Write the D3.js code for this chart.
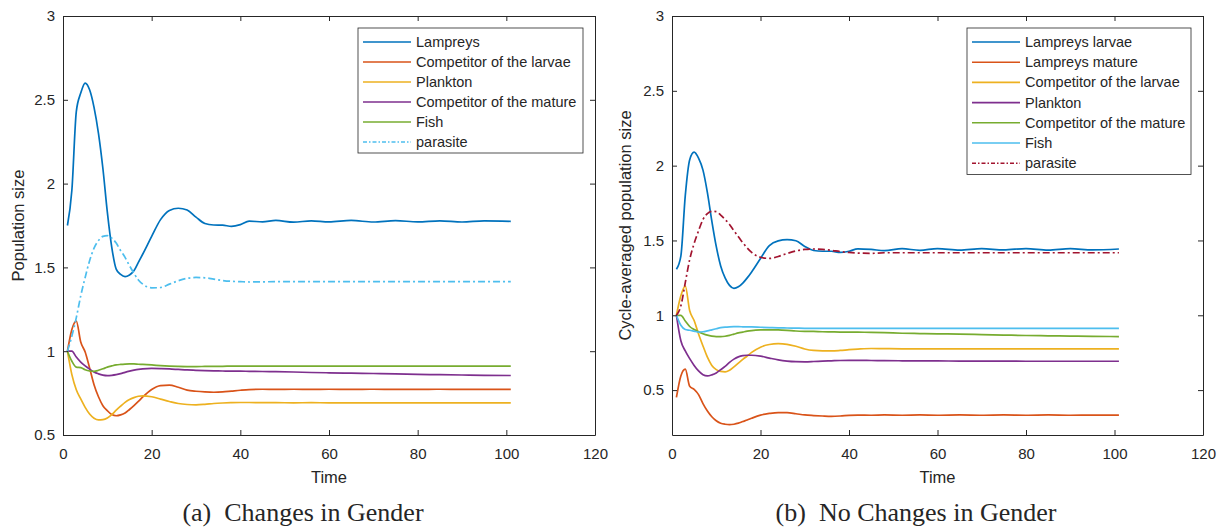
<!DOCTYPE html>
<html>
<head>
<meta charset="utf-8">
<script src="https://cdn.jsdelivr.net/npm/d3@7"></script>
<style>
  body { margin: 0; background: #fff; }
  svg { display: block; }
  text { fill: #262626; }
</style>
</head>
<body>
<div id="chart"></div>
<script>
// ---------- DATA ----------
const time = [1,2,3,4,5,6,7,8,9,10,11,12,13,14,15,16,17,18,20,22,24,26,28,30,32,34,36,38,40,42,45,48,52,56,60,65,70,75,80,85,90,95,101];

// Panel (a): Changes in Gender
const aLampreys   = [1.75,1.96,2.43,2.54,2.60,2.56,2.455,2.30,2.09,1.83,1.62,1.49,1.458,1.445,1.455,1.48,1.53,1.58,1.685,1.785,1.84,1.853,1.842,1.80,1.762,1.753,1.752,1.745,1.755,1.776,1.772,1.780,1.770,1.778,1.772,1.780,1.771,1.779,1.772,1.778,1.771,1.778,1.775];
const aCompLarvae = [1.0,1.13,1.18,1.055,0.995,0.90,0.80,0.728,0.675,0.645,0.622,0.615,0.62,0.631,0.652,0.675,0.70,0.727,0.772,0.795,0.798,0.785,0.768,0.761,0.757,0.755,0.757,0.762,0.767,0.771,0.773,0.772,0.773,0.772,0.773,0.772,0.773,0.772,0.772,0.773,0.772,0.772,0.772];
const aPlankton   = [1.0,0.86,0.77,0.715,0.665,0.625,0.60,0.59,0.592,0.602,0.622,0.648,0.672,0.695,0.712,0.723,0.731,0.734,0.728,0.714,0.70,0.688,0.682,0.68,0.683,0.688,0.691,0.693,0.694,0.694,0.693,0.693,0.692,0.693,0.692,0.692,0.692,0.692,0.692,0.692,0.692,0.692,0.692];
const aCompMature = [1.0,1.0,0.965,0.935,0.912,0.893,0.876,0.865,0.857,0.854,0.856,0.86,0.866,0.874,0.881,0.887,0.892,0.895,0.897,0.896,0.894,0.891,0.888,0.886,0.884,0.883,0.882,0.881,0.881,0.88,0.879,0.878,0.876,0.873,0.871,0.869,0.867,0.865,0.862,0.86,0.858,0.856,0.855];
const aFish       = [1.0,0.94,0.905,0.902,0.889,0.882,0.88,0.886,0.895,0.905,0.912,0.918,0.921,0.923,0.924,0.924,0.922,0.921,0.918,0.914,0.911,0.909,0.908,0.908,0.909,0.91,0.91,0.911,0.911,0.911,0.911,0.911,0.911,0.911,0.911,0.911,0.911,0.911,0.911,0.911,0.911,0.911,0.911];
const aParasite   = [1.0,1.09,1.2,1.33,1.44,1.54,1.615,1.66,1.685,1.69,1.675,1.645,1.60,1.56,1.51,1.465,1.425,1.40,1.378,1.38,1.40,1.42,1.435,1.44,1.438,1.43,1.422,1.417,1.415,1.413,1.414,1.415,1.415,1.415,1.415,1.415,1.415,1.415,1.415,1.415,1.415,1.415,1.415];

// Panel (b): No Changes in Gender
const bLampreysLarvae = [1.307,1.395,1.80,2.04,2.09,2.05,1.97,1.82,1.63,1.46,1.33,1.25,1.20,1.18,1.19,1.215,1.25,1.29,1.38,1.465,1.497,1.505,1.498,1.46,1.433,1.428,1.428,1.42,1.428,1.444,1.44,1.432,1.445,1.434,1.446,1.436,1.445,1.437,1.446,1.436,1.445,1.437,1.443];
const bLampreysMature = [0.451,0.595,0.64,0.525,0.505,0.47,0.41,0.36,0.322,0.295,0.279,0.272,0.269,0.272,0.279,0.29,0.30,0.312,0.333,0.344,0.35,0.349,0.342,0.334,0.33,0.327,0.325,0.327,0.331,0.333,0.332,0.334,0.332,0.334,0.332,0.334,0.332,0.334,0.332,0.334,0.332,0.333,0.333];
const bCompLarvae     = [1.0,1.13,1.195,1.03,0.965,0.875,0.795,0.72,0.665,0.637,0.625,0.622,0.633,0.655,0.68,0.705,0.728,0.752,0.787,0.805,0.81,0.806,0.793,0.775,0.765,0.762,0.762,0.765,0.77,0.774,0.778,0.777,0.776,0.776,0.775,0.776,0.775,0.775,0.775,0.775,0.775,0.775,0.775];
const bPlankton       = [1.0,0.83,0.762,0.71,0.665,0.628,0.603,0.595,0.602,0.615,0.637,0.658,0.685,0.707,0.722,0.73,0.733,0.733,0.727,0.714,0.702,0.694,0.69,0.689,0.691,0.694,0.696,0.698,0.699,0.699,0.698,0.697,0.696,0.695,0.695,0.694,0.694,0.694,0.693,0.693,0.693,0.693,0.693];
const bCompMature     = [1.0,1.0,0.962,0.925,0.905,0.89,0.877,0.867,0.861,0.858,0.858,0.86,0.866,0.874,0.882,0.888,0.894,0.898,0.902,0.903,0.902,0.899,0.895,0.893,0.892,0.89,0.889,0.888,0.888,0.887,0.886,0.884,0.88,0.878,0.876,0.874,0.871,0.868,0.865,0.863,0.861,0.859,0.858];
const bFish           = [1.0,0.933,0.905,0.9,0.894,0.888,0.89,0.896,0.903,0.91,0.917,0.921,0.923,0.924,0.924,0.923,0.922,0.922,0.92,0.918,0.916,0.915,0.914,0.913,0.913,0.913,0.913,0.913,0.913,0.913,0.913,0.913,0.913,0.913,0.913,0.913,0.913,0.913,0.913,0.913,0.913,0.913,0.913];
const bParasite       = [1.0,1.062,1.218,1.373,1.48,1.565,1.64,1.68,1.695,1.693,1.67,1.64,1.607,1.565,1.525,1.485,1.45,1.42,1.388,1.38,1.393,1.413,1.43,1.44,1.443,1.44,1.434,1.426,1.42,1.416,1.414,1.418,1.418,1.418,1.418,1.418,1.418,1.418,1.418,1.418,1.418,1.418,1.418];

const xTicks = [0,20,40,60,80,100,120];
const yTicks = [0.5,1,1.5,2,2.5,3];
const aNames = ["Lampreys","Competitor of the larvae","Plankton","Competitor of the mature","Fish","parasite"];
const bNames = ["Lampreys larvae","Lampreys mature","Competitor of the larvae","Plankton","Competitor of the mature","Fish","parasite"];
const captions = ["(a)  Changes in Gender", "(b)  No Changes in Gender"];
const yLabels = ["Population size", "Cycle-averaged population size"];
const xLabel = "Time";

// ---------- STYLE ----------
const C = { blue:"#0072BD", orange:"#D95319", yellow:"#EDB120", purple:"#7E2F8E", green:"#77AC30", cyan:"#4DBEEE", red:"#A2142F" };
const axisColor = "#262626";
const dashDot = "7,3,2,3";

const panels = [
  {
    plot: {left:63, right:595, top:16, bottom:435},
    yDomain: [0.5, 3],
    series: [
      {name:aNames[0], values:aLampreys,   color:C.blue},
      {name:aNames[1], values:aCompLarvae, color:C.orange},
      {name:aNames[2], values:aPlankton,   color:C.yellow},
      {name:aNames[3], values:aCompMature, color:C.purple},
      {name:aNames[4], values:aFish,       color:C.green},
      {name:aNames[5], values:aParasite,   color:C.cyan, dash:dashDot}
    ],
    legend: {x:358, y:28, w:225, rowH:20},
    yLabel: yLabels[0], yLabelX: 24,
    caption: captions[0], captionX: 303
  },
  {
    plot: {left:672, right:1203, top:16, bottom:435},
    yDomain: [0.2, 3],
    series: [
      {name:bNames[0], values:bLampreysLarvae, color:C.blue},
      {name:bNames[1], values:bLampreysMature, color:C.orange},
      {name:bNames[2], values:bCompLarvae,     color:C.yellow},
      {name:bNames[3], values:bPlankton,       color:C.purple},
      {name:bNames[4], values:bCompMature,     color:C.green},
      {name:bNames[5], values:bFish,           color:C.cyan},
      {name:bNames[6], values:bParasite,       color:C.red, dash:dashDot}
    ],
    legend: {x:967, y:28, w:224, rowH:20.2},
    yLabel: yLabels[1], yLabelX: 631,
    caption: captions[1], captionX: 916
  }
];

const svg = d3.select("#chart").append("svg")
  .attr("width", 1227).attr("height", 530)
  .style("font-family", "'Liberation Sans', Arial, Helvetica, sans-serif");
svg.append("rect").attr("width",1227).attr("height",530).attr("fill","#fff");

panels.forEach(p => {
  const {left,right,top,bottom} = p.plot;
  const x = d3.scaleLinear().domain([0,120]).range([left,right]);
  const y = d3.scaleLinear().domain(p.yDomain).range([bottom,top]);
  const g = svg.append("g");

  // lines
  const line = d3.line()
    .x((d,i) => x(time[i]))
    .y(d => y(d))
    .curve(d3.curveMonotoneX);
  p.series.forEach(s => {
    g.append("path")
      .attr("d", line(s.values))
      .attr("fill","none")
      .attr("stroke", s.color)
      .attr("stroke-width", 1.7)
      .attr("stroke-dasharray", s.dash || null);
  });

  // axes
  const styleAxis = sel => {
    sel.selectAll(".domain").attr("stroke", axisColor).attr("stroke-width", 1);
    sel.selectAll(".tick line").attr("stroke", axisColor).attr("stroke-width", 1);
    sel.selectAll(".tick text").attr("fill", axisColor).style("font-size","15px").style("font-family","'Liberation Sans', Arial, sans-serif");
  };
  g.append("g").attr("transform",`translate(0,${bottom})`)
    .call(d3.axisBottom(x).tickValues(xTicks).tickSizeInner(-5).tickSizeOuter(0).tickPadding(13).tickFormat(d3.format("d")))
    .call(styleAxis);
  g.append("g").attr("transform",`translate(0,${top})`)
    .call(d3.axisTop(x).tickValues(xTicks).tickSizeInner(-5).tickSizeOuter(0).tickFormat(""))
    .call(styleAxis);
  g.append("g").attr("transform",`translate(${left},0)`)
    .call(d3.axisLeft(y).tickValues(yTicks).tickSizeInner(-5).tickSizeOuter(0).tickPadding(8).tickFormat(d => String(d)))
    .call(styleAxis);
  g.append("g").attr("transform",`translate(${right},0)`)
    .call(d3.axisRight(y).tickValues(yTicks).tickSizeInner(-5).tickSizeOuter(0).tickFormat(""))
    .call(styleAxis);

  // axis labels
  g.append("text")
    .attr("x", (left+right)/2).attr("y", 483)
    .attr("text-anchor","middle")
    .style("font-size","16.5px")
    .text(xLabel);
  g.append("text")
    .attr("transform", `translate(${p.yLabelX},${(top+bottom)/2}) rotate(-90)`)
    .attr("text-anchor","middle")
    .style("font-size","16.5px")
    .text(p.yLabel);

  // legend
  const L = p.legend;
  const n = p.series.length;
  const lg = g.append("g");
  lg.append("rect")
    .attr("x", L.x).attr("y", L.y).attr("width", L.w).attr("height", L.rowH*n + 5)
    .attr("fill","#fff").attr("stroke", axisColor).attr("stroke-width", 0.8);
  p.series.forEach((s,i) => {
    const cy = L.y + 14 + i*L.rowH;
    lg.append("line")
      .attr("x1", L.x+5).attr("x2", L.x+53).attr("y1", cy).attr("y2", cy)
      .attr("stroke", s.color).attr("stroke-width", 1.6)
      .attr("stroke-dasharray", s.dash ? "4,2,1.5,2" : null);
    lg.append("text")
      .attr("x", L.x+58).attr("y", cy).attr("dy","0.35em")
      .style("font-size","14.5px")
      .text(s.name);
  });

  // caption
  svg.append("text")
    .attr("x", p.captionX).attr("y", 521)
    .attr("text-anchor","middle")
    .style("font-family","'Liberation Serif', 'Times New Roman', serif")
    .style("font-size","26px")
    .style("white-space","pre")
    .attr("fill","#000")
    .text(p.caption);
});
</script>
</body>
</html>
